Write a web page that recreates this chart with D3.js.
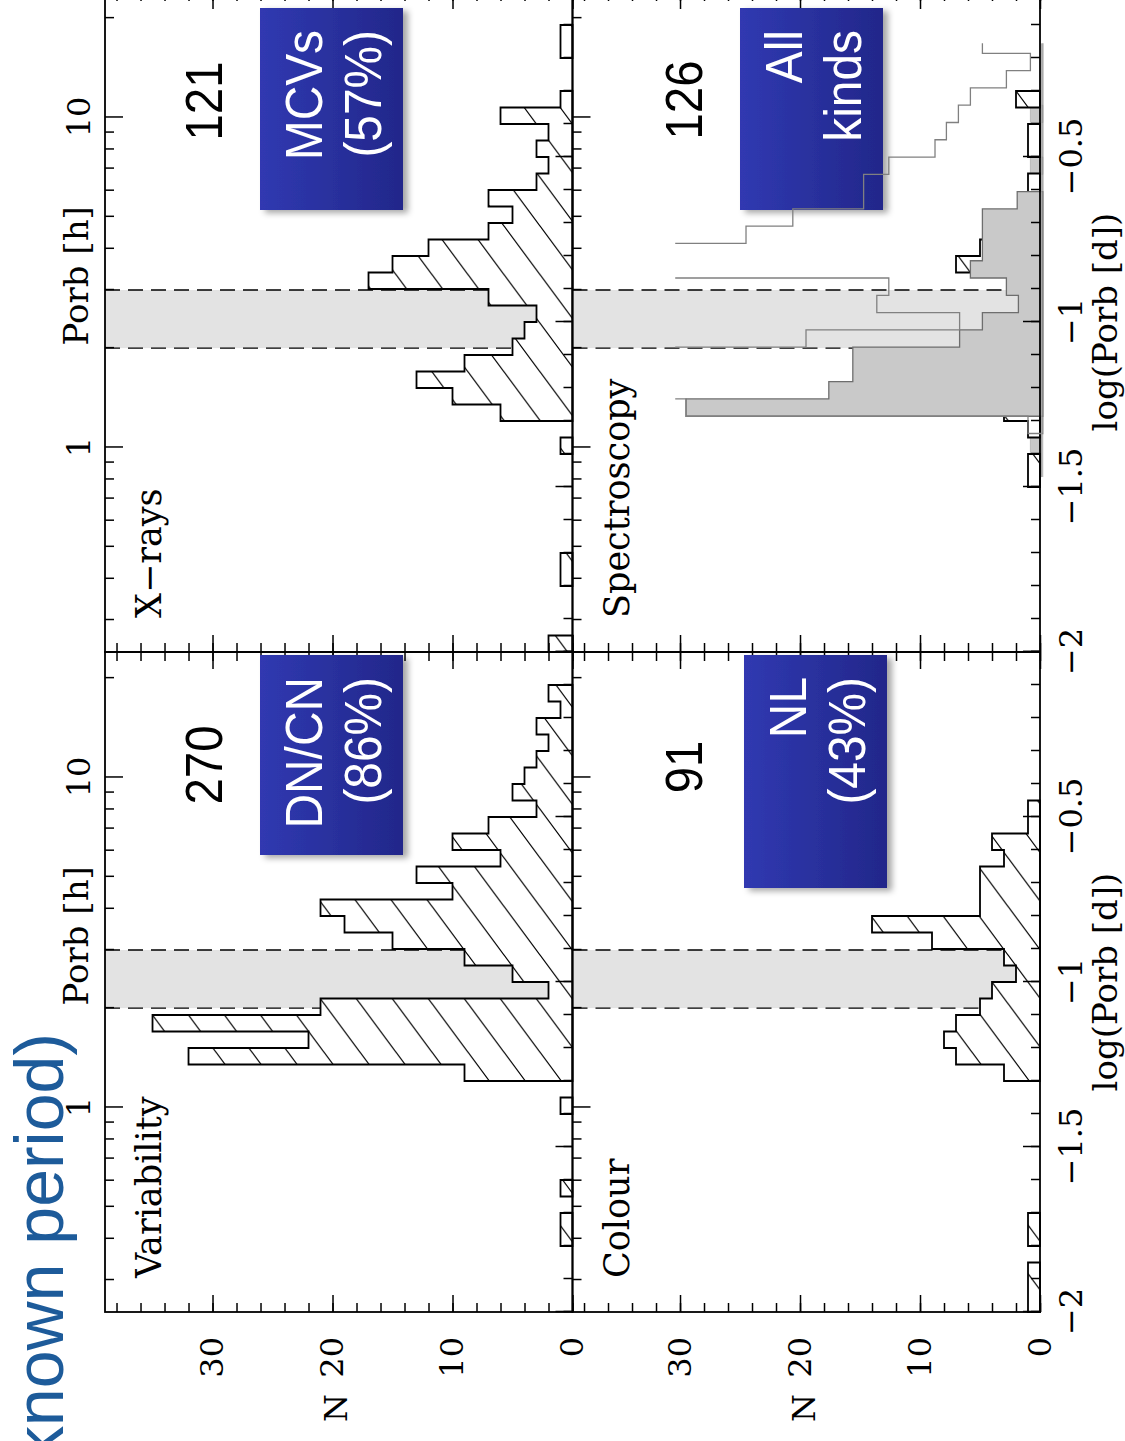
<!DOCTYPE html>
<html>
<head>
<meta charset="utf-8">
<script src="https://cdn.jsdelivr.net/npm/d3@7"></script>
<style>
  body { margin: 0; background: #fff; }
  svg { display: block; }
</style>
</head>
<body>
<svg id="chart"></svg>
<script>
// histograms of log(Porb [d]) in 0.05 dex bins, first bin starts at -2
const binStart = -2;
const binWidth = 0.05;
const variabilityCounts = [0, 0, 0, 0, 1, 1, 0, 1, 0, 0, 0, 0, 1, 0, 9, 32, 22, 35, 21, 2,
    5, 9, 15, 19, 21, 10, 13, 6, 10, 7, 3, 5, 4, 3, 2, 3, 1, 2, 0, 0];
const xraysCounts = [2, 0, 0, 0, 1, 1, 0, 0, 0, 0, 0, 0, 1, 0, 6, 10, 13, 9, 5, 4,
    3, 7, 17, 15, 12, 7, 5, 7, 3, 2, 3, 2, 6, 1, 0, 0, 1, 1, 0, 0];
const colourCounts = [1, 1, 1, 0, 1, 1, 0, 0, 0, 0, 0, 0, 0, 0, 3, 7, 8, 7, 5, 4,
    2, 3, 9, 14, 5, 5, 5, 3, 4, 1, 1, 0, 0, 0, 0, 0, 0, 0, 0, 0];
const spectroscopyCounts = [0, 0, 0, 0, 0, 0, 0, 0, 0, 0, 1, 1, 0, 1, 3, 15, 13, 12, 5, 4,
    1, 1, 1, 7, 5, 3, 1, 1, 1, 0, 1, 1, 0, 2, 0, 0, 0, 0, 0, 0];

// pasted "all kinds" histogram over the spectroscopy panel (its own binning)
const allKindsStart = -1.495;
const allKindsWidth = 0.05236;
const allKindsFilled = [0.8, 0.8, 0.8, 1.0, 29.5, 17.6, 15.6, 15.6, 6.7, 4.8, 1.8, 2.8, 5.8,
    4.8, 4.8, 4.8, 1.9, 0, 0.8, 0, 0, 0.8, 0, 0, 0, 0];
const allKindsLine = [0, 0, 0, 1, 29.5, 40, 40, 40, 19.5, 6.7, 13.6, 12.6, 40,
    40, 24.5, 20.6, 14.7, 14.7, 12.6, 8.75, 7.8, 6.8, 5.8, 2.8, 0.8, 4.8];
const allKindsRange = [-1.47, -0.1555];
const allKindsNmax = 30.4;

const panelNames = ['Variability', 'X\u2212rays', 'Colour', 'Spectroscopy'];
const panelTotals = ['270', '121', '91', '126'];
const boxLines = [['DN/CN', '(86%)'], ['MCVs', '(57%)'], ['NL', '(43%)'], ['All', 'kinds']];

const gapHours = [2, 3];
const logMajor = [-2, -1.5, -1, -0.5, 0];
const logMinor = d3.range(-20, 1).map(d => d / 10);
const hourMajor = [1, 10];
const hourMinor = [0.3, 0.4, 0.5, 0.6, 0.7, 0.8, 0.9, 2, 3, 4, 5, 6, 7, 8, 9, 20];
const nMajor = [0, 10, 20, 30];
const nMinor = d3.range(0, 39, 2);

const W = 1125, H = 1441;
const serif = '"DejaVu Serif", serif';
const sans = '"Liberation Sans", Arial, sans-serif';

// layout of the (unrotated) figure
const colStart = [129, 789];
const dexPx = 330;
const rowTop = [105, 572.5];
const rowBase = [572.5, 1040];
const nMax = 38.96;

const panelSpec = [
    {data: variabilityCounts, col: 0, row: 0, box: [586, 786, 260, 403], total: [676, 222]},
    {data: xraysCounts, col: 1, row: 0, box: [1231, 1433, 260, 403], total: [1340, 222]},
    {data: colourCounts, col: 0, row: 1, box: [553, 786, 744, 887], total: [674, 702]},
    {data: spectroscopyCounts, col: 1, row: 1, box: [1231, 1433, 740, 883], total: [1341, 702]},
];

const svg = d3.select('#chart').attr('width', W).attr('height', H);
const defs = svg.append('defs');

const hatch = defs.append('pattern').attr('id', 'hatch')
    .attr('patternUnits', 'userSpaceOnUse').attr('width', 48.6).attr('height', 36);
hatch.append('rect').attr('width', 48.6).attr('height', 36).attr('fill', '#fff');
hatch.append('path')
    .attr('d', 'M0,36L48.6,0M-4.86,3.6L4.86,-3.6M43.74,39.6L53.46,32.4')
    .attr('stroke', '#000').attr('stroke-width', 1.1);

const grad = defs.append('linearGradient').attr('id', 'boxFill')
    .attr('x1', 0).attr('y1', 0).attr('x2', 0).attr('y2', 1);
grad.append('stop').attr('offset', '0%').attr('stop-color', '#3039b1');
grad.append('stop').attr('offset', '100%').attr('stop-color', '#22278a');

const shadow = defs.append('filter').attr('id', 'shadow')
    .attr('x', '-10%').attr('y', '-10%').attr('width', '130%').attr('height', '130%');
shadow.append('feDropShadow').attr('dx', -3).attr('dy', 5).attr('stdDeviation', 3)
    .attr('flood-color', '#000').attr('flood-opacity', 0.35);

// the whole figure is drawn in landscape and turned a quarter round
const g = svg.append('g').attr('transform', `translate(0,${H}) rotate(-90)`);
const contentLayer = g.append('g');
const axesLayer = g.append('g');
const boxLayer = g.append('g');
const overlayLayer = g.append('g');

function stepPath(values, start, width, x, y, base = 0) {
    let d = '';
    let open = false;
    values.forEach((n, i) => {
        const lo = start + i * width, hi = lo + width;
        if (n > 0) {
            if (!open) { d += `M${x(lo)},${y(base)}`; open = true; }
            d += `L${x(lo)},${y(n)}L${x(hi)},${y(n)}`;
        } else if (open) {
            d += `L${x(lo)},${y(base)}Z`;
            open = false;
        }
    });
    if (open) d += `L${x(start + values.length * width)},${y(base)}Z`;
    return d;
}

function minus(d) {
    return String(d).replace('-', '\u2212');
}

function styleAxis(sel) {
    sel.select('.domain').remove();
    sel.selectAll('line').attr('stroke', '#000').attr('stroke-width', 1.5);
    sel.attr('font-family', serif).attr('font-size', 32);
    sel.selectAll('text').attr('fill', '#000');
}

panelSpec.forEach((p, i) => {
    const x = d3.scaleLinear().domain([-2, 0]).range([colStart[p.col], colStart[p.col] + 2 * dexPx]);
    const y = d3.scaleLinear().domain([0, nMax]).range([rowBase[p.row], rowTop[p.row]]);
    const u0 = x(-2), u1 = x(0), top = y(nMax), base = y(0);
    const c = contentLayer.append('g');

    // period gap band
    const gapLo = Math.log10(gapHours[0] / 24), gapHi = Math.log10(gapHours[1] / 24);
    c.append('rect').attr('x', x(gapLo)).attr('y', top)
        .attr('width', x(gapHi) - x(gapLo)).attr('height', base - top)
        .attr('fill', '#e3e3e3');
    c.selectAll('line.gap').data([gapLo, gapHi]).enter().append('line')
        .attr('x1', d => x(d)).attr('x2', d => x(d)).attr('y1', top).attr('y2', base)
        .attr('stroke', '#000').attr('stroke-width', 1.4).attr('stroke-dasharray', '15,8');

    const overlayY = d3.scaleLinear().domain([0, nMax]).range([rowBase[p.row], rowTop[p.row]]);
    const isSpec = i === 3;
    let clipId = null;
    if (isSpec) {
        clipId = 'overlayClip';
        defs.append('clipPath').attr('id', clipId).append('rect')
            .attr('x', x(allKindsRange[0])).attr('y', y(allKindsNmax))
            .attr('width', x(allKindsRange[1]) - x(allKindsRange[0]))
            .attr('height', y(-0.3) - y(allKindsNmax));
        // low strip of the pasted histogram lies under the hatched one
        c.append('path')
            .attr('d', stepPath(allKindsFilled.map(v => Math.min(v, 1)), allKindsStart, allKindsWidth, x, overlayY, -0.25))
            .attr('clip-path', `url(#${clipId})`)
            .attr('fill', '#c9c9c9').attr('stroke', '#b0b0b0').attr('stroke-width', 0.8);
    }

    c.append('path')
        .attr('d', stepPath(p.data, binStart, binWidth, x, y))
        .attr('fill', 'url(#hatch)')
        .attr('stroke', '#000').attr('stroke-width', 1.8).attr('stroke-linejoin', 'miter');

    if (isSpec) {
        c.append('path')
            .attr('d', stepPath(allKindsFilled.map(v => v >= 1.5 ? v : 0), allKindsStart, allKindsWidth, x, overlayY, -0.25))
            .attr('clip-path', `url(#${clipId})`)
            .attr('fill', '#c9c9c9').attr('stroke', '#6e6e6e').attr('stroke-width', 1.3);
        overlayLayer.append('path')
            .attr('d', stepPath(allKindsLine, allKindsStart, allKindsWidth, x, overlayY, -0.25))
            .attr('clip-path', `url(#${clipId})`)
            .attr('fill', 'none').attr('stroke', '#808080').attr('stroke-width', 1.3);
        overlayLayer.append('line')
            .attr('x1', x(allKindsRange[0])).attr('x2', x(allKindsRange[1]))
            .attr('y1', overlayY(-0.14)).attr('y2', overlayY(-0.14))
            .attr('stroke', '#a0a0a0').attr('stroke-width', 1);
    }

    // frame and ticks on all four sides
    const a = axesLayer.append('g');
    const showLog = p.row === 1, showHour = p.row === 0, showN = p.col === 0;

    a.append('g').attr('transform', `translate(0,${base})`)
        .call(d3.axisBottom(x).tickValues(logMinor).tickSize(-9).tickSizeOuter(0).tickFormat(''))
        .call(styleAxis);
    a.append('g').attr('transform', `translate(0,${base})`)
        .call(d3.axisBottom(x).tickValues(logMajor).tickSize(-17).tickSizeOuter(0).tickPadding(19)
            .tickFormat(d => showLog && d < 0 ? minus(d) : ''))
        .call(styleAxis);

    a.append('g').attr('transform', `translate(0,${top})`)
        .call(d3.axisTop(x).tickValues(hourMinor.map(h => Math.log10(h / 24))).tickSize(-9).tickSizeOuter(0).tickFormat(''))
        .call(styleAxis);
    a.append('g').attr('transform', `translate(0,${top})`)
        .call(d3.axisTop(x).tickValues(hourMajor.map(h => Math.log10(h / 24))).tickSize(-18).tickSizeOuter(0).tickPadding(15)
            .tickFormat(d => showHour ? String(Math.round(24 * Math.pow(10, d))) : ''))
        .call(styleAxis);

    [[d3.axisLeft, u0], [d3.axisRight, u1]].forEach(([axisFn, pos], k) => {
        a.append('g').attr('transform', `translate(${pos},0)`)
            .call(axisFn(y).tickValues(nMinor).tickSize(-9).tickSizeOuter(0).tickFormat(''))
            .call(styleAxis);
        a.append('g').attr('transform', `translate(${pos},0)`)
            .call(axisFn(y).tickValues(nMajor).tickSize(-17).tickSizeOuter(0).tickPadding(25)
                .tickFormat(d => showN && k === 0 ? String(d) : ''))
            .call(styleAxis);
    });

    a.append('rect').attr('x', u0).attr('y', top).attr('width', u1 - u0).attr('height', base - top)
        .attr('fill', 'none').attr('stroke', '#000').attr('stroke-width', 1.8);

    if (showLog) {
        a.append('text').attr('x', x(-1)).attr('y', base + 77)
            .attr('text-anchor', 'middle').attr('font-family', serif).attr('font-size', 34)
            .text('log(Porb [d])');
    }
    if (showHour) {
        a.append('text').attr('x', x(-0.86)).attr('y', top - 17)
            .attr('text-anchor', 'middle').attr('font-family', serif).attr('font-size', 34)
            .text('Porb [h]');
    }
    if (showN) {
        a.append('text').attr('x', 33).attr('y', (top + base) / 2)
            .attr('text-anchor', 'middle').attr('dominant-baseline', 'middle')
            .attr('font-family', serif).attr('font-size', 32)
            .text('N');
    }
    a.append('text').attr('x', u0 + 34).attr('y', top + 56)
        .attr('font-family', serif).attr('font-size', 35)
        .text(panelNames[i]);

    // slide annotations
    const [bu0, bu1, bv0, bv1] = p.box;
    const b = boxLayer.append('g');
    b.append('rect').attr('x', bu0).attr('y', bv0).attr('width', bu1 - bu0).attr('height', bv1 - bv0)
        .attr('fill', 'url(#boxFill)').attr('filter', 'url(#shadow)');
    boxLines[i].forEach((line, k) => {
        b.append('text')
            .attr('transform', `translate(${bu1 - 22},${bv0 + 62 + 59 * k}) scale(0.92,1)`)
            .attr('text-anchor', 'end').attr('font-family', sans).attr('font-size', 52)
            .attr('fill', '#fff').text(line);
    });
    b.append('text')
        .attr('transform', `translate(${p.total[0]},${p.total[1]}) scale(0.91,1)`)
        .attr('text-anchor', 'middle').attr('font-family', sans).attr('font-size', 52)
        .attr('fill', '#000').text(panelTotals[i]);
});

g.append('text').attr('x', 408).attr('y', 63)
    .attr('text-anchor', 'end').attr('font-family', sans).attr('font-size', 68)
    .attr('fill', '#1d5b9a').text('known period)');
</script>
</body>
</html>
